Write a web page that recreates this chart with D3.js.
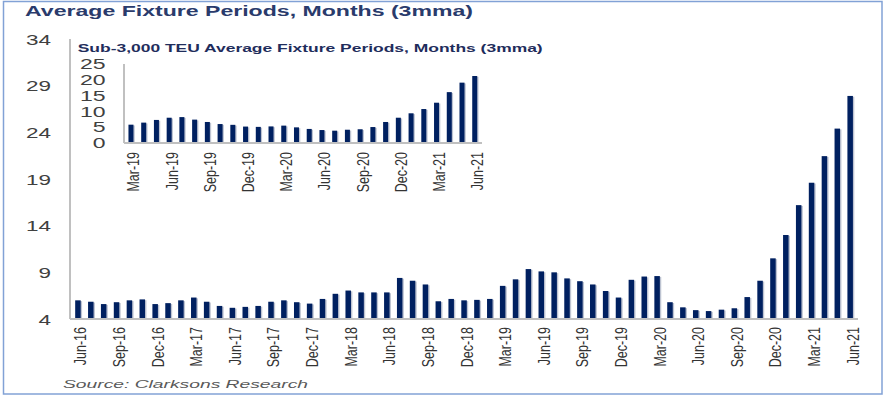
<!DOCTYPE html>
<html>
<head>
<meta charset="utf-8">
<script src="https://cdn.jsdelivr.net/npm/d3@7"></script>
<style>
  html, body { margin: 0; padding: 0; background: #fff; }
  svg { display: block; font-family: "Liberation Sans", Arial, sans-serif; }
</style>
</head>
<body>
<svg id="chart" width="887" height="399"></svg>
<script>
// ---------------- DATA ----------------
const mainTitle = "Average Fixture Periods, Months (3mma)";
const insetTitle = "Sub-3,000 TEU Average Fixture Periods, Months (3mma)";
const sourceText = "Source: Clarksons Research";

const mainMonths = [
  "Jun-16","Jul-16","Aug-16","Sep-16","Oct-16","Nov-16","Dec-16",
  "Jan-17","Feb-17","Mar-17","Apr-17","May-17","Jun-17","Jul-17","Aug-17","Sep-17","Oct-17","Nov-17","Dec-17",
  "Jan-18","Feb-18","Mar-18","Apr-18","May-18","Jun-18","Jul-18","Aug-18","Sep-18","Oct-18","Nov-18","Dec-18",
  "Jan-19","Feb-19","Mar-19","Apr-19","May-19","Jun-19","Jul-19","Aug-19","Sep-19","Oct-19","Nov-19","Dec-19",
  "Jan-20","Feb-20","Mar-20","Apr-20","May-20","Jun-20","Jul-20","Aug-20","Sep-20","Oct-20","Nov-20","Dec-20",
  "Jan-21","Feb-21","Mar-21","Apr-21","May-21","Jun-21"
];
const mainValues = [
  6.0, 5.85, 5.6, 5.8, 6.0, 6.1, 5.6,
  5.7, 6.0, 6.3, 5.85, 5.4, 5.2, 5.3, 5.4, 5.85, 6.0, 5.8, 5.65,
  6.15, 6.7, 7.05, 6.85, 6.85, 6.85, 8.4, 8.1, 7.7, 5.9, 6.15, 6.0,
  6.05, 6.15, 7.55, 8.25, 9.35, 9.1, 9.0, 8.35, 8.05, 7.7, 7.0, 6.3,
  8.2, 8.55, 8.6, 5.8, 5.25, 4.95, 4.85, 5.0, 5.15, 6.35, 8.1, 10.5,
  13.0, 16.2, 18.6, 21.45, 24.4, 27.9
];
const mainTickLabels = [
  "Jun-16","Sep-16","Dec-16","Mar-17","Jun-17","Sep-17","Dec-17","Mar-18","Jun-18","Sep-18","Dec-18",
  "Mar-19","Jun-19","Sep-19","Dec-19","Mar-20","Jun-20","Sep-20","Dec-20","Mar-21","Jun-21"
];
const mainYTicks = [4, 9, 14, 19, 24, 29, 34];

const insetMonths = [
  "Mar-19","Apr-19","May-19","Jun-19","Jul-19","Aug-19","Sep-19","Oct-19","Nov-19","Dec-19",
  "Jan-20","Feb-20","Mar-20","Apr-20","May-20","Jun-20","Jul-20","Aug-20","Sep-20","Oct-20","Nov-20","Dec-20",
  "Jan-21","Feb-21","Mar-21","Apr-21","May-21","Jun-21"
];
const insetValues = [
  5.8, 6.45, 7.3, 8.0, 8.2, 7.4, 6.65, 6.0, 5.75, 5.2,
  5.1, 5.25, 5.5, 4.95, 4.45, 4.1, 3.9, 4.2, 4.35, 5.05, 6.65, 8.0,
  9.4, 10.75, 12.75, 16.1, 19.1, 21.2
];
const insetTickLabels = ["Mar-19","Jun-19","Sep-19","Dec-19","Mar-20","Jun-20","Sep-20","Dec-20","Mar-21","Jun-21"];
const insetYTicks = [0, 5, 10, 15, 20, 25];

// ---------------- DRAW ----------------
const svg = d3.select("#chart");
const barColor = "#002060";
const shadowColor = "#a7afc2";
const axisColor = "#c0c0c0";
const labelColor = "#404040";

svg.append("rect").attr("x", 0).attr("y", 0).attr("width", 887).attr("height", 399).attr("fill", "#fff");

// frame
svg.append("rect")
  .attr("x", 3.5).attr("y", 1.5).attr("width", 878.5).attr("height", 392.5)
  .attr("fill", "none").attr("stroke", "#82a2d6").attr("stroke-width", 1.5);

// title
svg.append("text")
  .attr("x", 25).attr("y", 16)
  .attr("textLength", 448).attr("lengthAdjust", "spacingAndGlyphs")
  .attr("font-size", 14).attr("font-weight", "bold").attr("fill", "#2a3b6c")
  .text(mainTitle);

// ---- main chart ----
const x = d3.scalePoint().domain(mainMonths).range([71.5, 856.6]).padding(0.5);
const y = d3.scaleLinear().domain([4, 34]).range([319, 39]);
const bw = 5.5;

const mainG = svg.append("g");
mainG.selectAll("rect.sh").data(mainMonths).join("rect")
  .attr("class", "sh")
  .attr("x", d => x(d) - bw / 2 + 1.4).attr("width", bw)
  .attr("y", (d, i) => y(mainValues[i]) + 0.8)
  .attr("height", (d, i) => y(4) - y(mainValues[i]) - 0.8)
  .attr("fill", shadowColor).attr("opacity", 0.75);
mainG.selectAll("rect.bar").data(mainMonths).join("rect")
  .attr("class", "bar")
  .attr("x", d => x(d) - bw / 2).attr("width", bw)
  .attr("y", (d, i) => y(mainValues[i]))
  .attr("height", (d, i) => y(4) - y(mainValues[i]))
  .attr("fill", barColor);

// axes lines
mainG.append("line").attr("x1", 70).attr("x2", 70).attr("y1", y(34)).attr("y2", y(4))
  .attr("stroke", axisColor).attr("stroke-width", 2);
mainG.append("line").attr("x1", 70).attr("x2", 858).attr("y1", y(4)).attr("y2", y(4))
  .attr("stroke", axisColor).attr("stroke-width", 2);

// y tick labels
mainG.selectAll("text.yt").data(mainYTicks).join("text")
  .attr("class", "yt")
  .attr("x", 51).attr("y", d => y(d) + 5.5)
  .attr("text-anchor", "end")
  .attr("font-size", 14).attr("fill", labelColor)
  .attr("textLength", d => String(d).length * 12.5).attr("lengthAdjust", "spacingAndGlyphs")
  .text(d => d);

// x tick labels (rotated, glyphs widened like the reference)
mainG.selectAll("text.xt").data(mainTickLabels).join("text")
  .attr("class", "xt")
  .attr("transform", d => `translate(${x(d) + 8.5},327) scale(1.3,1) rotate(-90)`)
  .attr("text-anchor", "end")
  .attr("font-size", 12.5).attr("fill", "#333")
  .text(d => d);

// ---- inset chart ----
const xi = d3.scalePoint().domain(insetMonths).range([124.6, 481.1]).padding(0.5);
const yi = d3.scaleLinear().domain([0, 25]).range([143, 64]);
const bwi = 5;

const insetG = svg.append("g");
insetG.append("text")
  .attr("x", 77.7).attr("y", 51.7)
  .attr("textLength", 465).attr("lengthAdjust", "spacingAndGlyphs")
  .attr("font-size", 10.3).attr("font-weight", "bold").attr("fill", "#1f2d5c")
  .text(insetTitle);

insetG.selectAll("rect.sh").data(insetMonths).join("rect")
  .attr("class", "sh")
  .attr("x", d => xi(d) - bwi / 2 + 1.3).attr("width", bwi)
  .attr("y", (d, i) => yi(insetValues[i]) + 0.8)
  .attr("height", (d, i) => yi(0) - yi(insetValues[i]) - 0.8)
  .attr("fill", shadowColor).attr("opacity", 0.75);
insetG.selectAll("rect.bar").data(insetMonths).join("rect")
  .attr("class", "bar")
  .attr("x", d => xi(d) - bwi / 2).attr("width", bwi)
  .attr("y", (d, i) => yi(insetValues[i]))
  .attr("height", (d, i) => yi(0) - yi(insetValues[i]))
  .attr("fill", barColor);

insetG.append("line").attr("x1", 124).attr("x2", 124).attr("y1", yi(25)).attr("y2", yi(0))
  .attr("stroke", axisColor).attr("stroke-width", 2);
insetG.append("line").attr("x1", 124).attr("x2", 482).attr("y1", yi(0)).attr("y2", yi(0))
  .attr("stroke", axisColor).attr("stroke-width", 2);

insetG.selectAll("text.yt").data(insetYTicks).join("text")
  .attr("class", "yt")
  .attr("x", 105.5).attr("y", d => yi(d) + 5.2)
  .attr("text-anchor", "end")
  .attr("font-size", 14).attr("fill", labelColor)
  .attr("textLength", d => String(d).length * 12.8).attr("lengthAdjust", "spacingAndGlyphs")
  .text(d => d);

insetG.selectAll("text.xt").data(insetTickLabels).join("text")
  .attr("class", "xt")
  .attr("transform", d => `translate(${xi(d) + 8.5},152) scale(1.3,1) rotate(-90)`)
  .attr("text-anchor", "end")
  .attr("font-size", 12.5).attr("fill", "#333")
  .text(d => d);

// source
svg.append("text")
  .attr("x", 63).attr("y", 387.5)
  .attr("textLength", 245).attr("lengthAdjust", "spacingAndGlyphs")
  .attr("font-size", 11.2).attr("font-style", "italic").attr("fill", "#595959")
  .text(sourceText);
</script>
</body>
</html>
